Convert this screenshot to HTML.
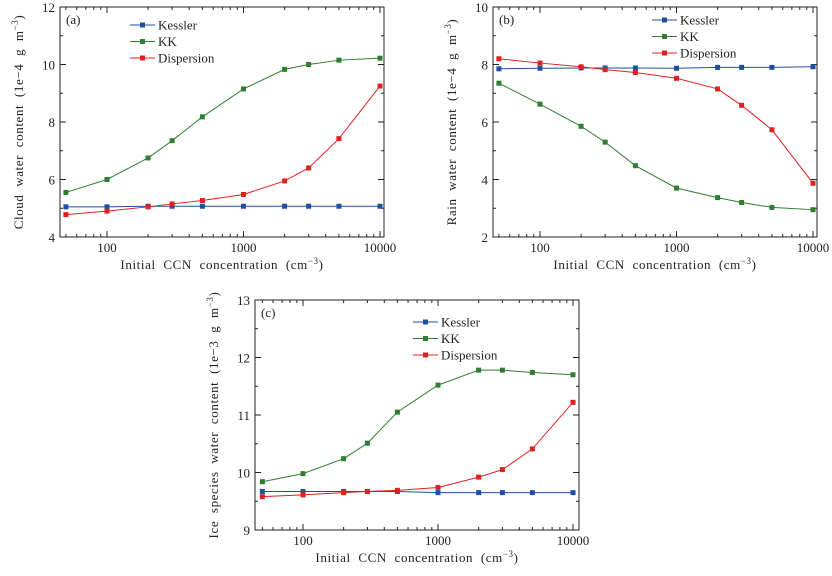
<!DOCTYPE html>
<html><head><meta charset="utf-8"><style>
body{margin:0;background:#fff}
svg text{font-family:"Liberation Serif",serif;fill:#222;white-space:pre}
</style></head><body>
<svg id="s" width="832" height="571" xmlns="http://www.w3.org/2000/svg"></svg>
<script>
const ccn = [50,100,200,300,500,1000,2000,3000,5000,10000];
const xTickLabels = ["100","1000","10000"];
const seriesNames = ["Kessler","KK","Dispersion"];
const aKessler = [5.05,5.05,5.07,5.07,5.07,5.07,5.07,5.07,5.07,5.07];
const aKK = [5.55,6.0,6.75,7.35,8.18,9.15,9.83,10.0,10.15,10.22];
const aDisp = [4.78,4.9,5.05,5.15,5.27,5.48,5.95,6.4,7.42,9.25];
const bKessler = [7.85,7.87,7.88,7.88,7.88,7.87,7.9,7.9,7.9,7.92];
const bKK = [7.35,6.62,5.85,5.3,4.48,3.7,3.37,3.2,3.03,2.95];
const bDisp = [8.2,8.05,7.92,7.82,7.72,7.52,7.15,6.58,5.73,3.87];
const cKessler = [9.67,9.67,9.67,9.67,9.67,9.65,9.65,9.65,9.65,9.65];
const cKK = [9.84,9.98,10.24,10.51,11.05,11.52,11.78,11.78,11.74,11.70];
const cDisp = [9.58,9.61,9.65,9.67,9.69,9.74,9.92,10.05,10.41,11.22];
const aYTicks = [4,6,8,10,12];
const bYTicks = [2,4,6,8,10];
const cYTicks = [9,10,11,12,13];

const svg=document.getElementById('s');
const NS='http://www.w3.org/2000/svg';
const colors=['#1f4fa0','#2e7d32','#e02020'];
function mk(t,a,p){const e=document.createElementNS(NS,t);for(const k in a)e.setAttribute(k,a[k]);(p||svg).appendChild(e);return e;}

function panel(id,L,R,T,B,x100,x10k,yTicks,series,label,ylab,legX,legY){
  const g=mk('g',{});
  
  
  const dec=(x10k-x100)/2;
  const xs=v=>x100+(Math.log10(v)-2)*dec;
  const y0=yTicks[0],y1=yTicks[yTicks.length-1];
  const ys=v=>B-(v-y0)/(y1-y0)*(B-T);
  const frame=mk('rect',{x:L,y:T,width:R-L,height:B-T,fill:'none',stroke:'#222','stroke-width':1},g);
  
  
  for(let i=0;i<yTicks.length;i++){
    const y=ys(yTicks[i]);
    if(i>0&&i<yTicks.length-1){mk('line',{x1:L,x2:L+6,y1:y,y2:y,stroke:'#222'},g);mk('line',{x1:R,x2:R-6,y1:y,y2:y,stroke:'#222'},g);}
    const t=mk('text',{x:L-5,y:y+5,'text-anchor':'end','font-size':13},g);t.textContent=yTicks[i];
    
    
    if(i<yTicks.length-1){const ym=ys((yTicks[i]+yTicks[i+1])/2);mk('line',{x1:L,x2:L+3,y1:ym,y2:ym,stroke:'#222'},g);mk('line',{x1:R,x2:R-3,y1:ym,y2:ym,stroke:'#222'},g);}
  }
  for(let d=1;d<=4;d++)for(let m=1;m<10;m++){
    const v=m*Math.pow(10,d);const x=xs(v);if(x<=L+0.5||x>=R-0.5)continue;
    const len=m==1?6:3;
    mk('line',{x1:x,x2:x,y1:B,y2:B-len,stroke:'#222'},g);mk('line',{x1:x,x2:x,y1:T,y2:T+len,stroke:'#222'},g);
  }
  xTickLabels.forEach(s=>{const t=mk('text',{x:xs(+s),y:B+15,'text-anchor':'middle','font-size':13},g);t.textContent=s;
    
    });
  const xt=mk('text',{x:(L+R)/2,y:B+32,'text-anchor':'middle','font-size':13,'letter-spacing':'0.6'},g);
  xt.innerHTML='Initial  CCN  concentration  (cm<tspan dy="-5" font-size="9">−3</tspan><tspan dy="5">)</tspan>';
  
  
  const yt=mk('text',{x:0,y:0,'text-anchor':'middle','font-size':13,'letter-spacing':'0.6',transform:`translate(${L-37},${(T+B)/2}) rotate(-90)`},g);
  yt.innerHTML=ylab+'  (1e−'+(id=='c'?'3':'4')+'  g  m<tspan dy="-5" font-size="9">−3</tspan><tspan dy="5">)</tspan>';
  
  
  const pl=mk('text',{x:L+6,y:T+17,'font-size':13},g);pl.textContent='('+id+')';
  
  
  series.forEach((d,k)=>{
    const pts=d.map((v,i)=>xs(ccn[i])+','+ys(v)).join(' ');
    const ln=mk('polyline',{points:pts,fill:'none',stroke:colors[k],'stroke-width':1},g);
    
    
    d.forEach((v,i)=>{const r=mk('rect',{x:xs(ccn[i])-2.5,y:ys(v)-2.5,width:5,height:5,fill:colors[k]},g);
      
      });
    const ly=legY+k*16.5;
    const le=mk('g',{},g);
    
    
    mk('line',{x1:legX,x2:legX+25,y1:ly,y2:ly,stroke:colors[k]},le);
    mk('rect',{x:legX+10,y:ly-2.5,width:5,height:5,fill:colors[k]},le);
    const t=mk('text',{x:legX+28,y:ly+4.5,'font-size':13},le);t.textContent=seriesNames[k];
  });
}
panel('a',60,384,7,237,107,380,aYTicks,[aKessler,aKK,aDisp],'a','Cloud  water  content',130,25);
panel('b',493,817,7,237,540,813,bYTicks,[bKessler,bKK,bDisp],'b','Rain  water  content',652,20);
panel('c',255,579,300,530,303,573,cYTicks,[cKessler,cKK,cDisp],'c','Ice  species  water  content',413,322);
</script>
</body></html>
